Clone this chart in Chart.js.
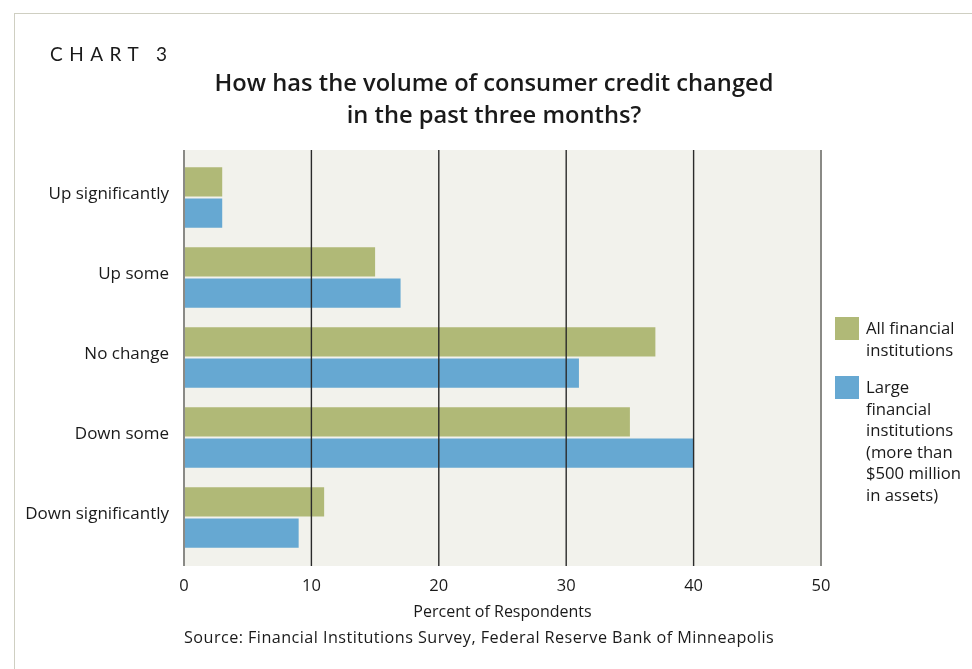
<!DOCTYPE html>
<html>
<head>
<meta charset="utf-8">
<script src="https://cdn.jsdelivr.net/npm/chart.js@4.4.1/dist/chart.umd.min.js"></script>
<style>
  body { margin: 0; background: #fff; font-family: "Open Sans", Lato, sans-serif; color: #1a1a1a; }
  #wrap { position: relative; width: 972px; height: 669px; overflow: hidden; }
  #frame { position: absolute; left: 14px; top: 13px; right: -2px; bottom: -2px;
           border-left: 1.5px solid #cfcfc2; border-top: 1.5px solid #cfcfc2; }
  #myChart { position: absolute; left: 0; top: 0; }
  .txt { position: absolute; white-space: nowrap; }
  #tag { left: 50px; top: 42px; font-family: Lato, sans-serif; font-size: 19px; letter-spacing: 6.5px; }
  #title { left: 144px; width: 700px; top: 66px; text-align: center; font-size: 23.7px;
           font-weight: 600; line-height: 32px; }
  #source { left: 184px; top: 626px; font-size: 16.2px; letter-spacing: 0.45px; }
  #legend { position: absolute; left: 835px; top: 317px; font-size: 16.7px; line-height: 21.5px; }
  .item { position: relative; padding-left: 31px; margin-bottom: 16px; }
  .box { position: absolute; left: 0; top: 0; width: 24px; height: 23px; }
</style>
</head>
<body>
<div id="wrap">
  <div id="frame"></div>
  <canvas id="myChart" width="972" height="669"></canvas>
  <div class="txt" id="tag">CHART 3</div>
  <div class="txt" id="title">How has the volume of consumer credit changed<br>in the past three months?</div>
  <div class="txt" id="source">Source: Financial Institutions Survey, Federal Reserve Bank of Minneapolis</div>
  <div id="legend"></div>
</div>
<script>
const categories = ['Up significantly', 'Up some', 'No change', 'Down some', 'Down significantly'];
const allInstitutions = [3, 15, 37, 35, 11];
const largeInstitutions = [3, 17, 31, 40, 9];
const seriesNames = [
    ['All financial', 'institutions'],
    ['Large', 'financial', 'institutions', '(more than', '$500 million', 'in assets)']
];
const xTicks = [0, 10, 20, 30, 40, 50];

const green = '#b0b977';
const blue = '#66a8d2';

// legend drawn as html because the labels wrap over several lines
const legend = document.getElementById('legend');
[green, blue].forEach((c, i) => {
    const d = document.createElement('div');
    d.className = 'item';
    d.innerHTML = '<span class="box" style="background:' + c + '"></span>' + seriesNames[i].join('<br>');
    legend.appendChild(d);
});

// plot background and vertical rules reach a little past the bars
const plotFrame = {
    id: 'plotFrame',
    beforeDatasetsDraw(chart) {
        const { ctx, chartArea: a } = chart;
        ctx.save();
        ctx.fillStyle = '#f2f2ec';
        ctx.fillRect(a.left, a.top - 7.5, a.right - a.left, a.bottom - a.top + 16);
        ctx.restore();
    },
    afterDatasetsDraw(chart) {
        const { ctx, chartArea: a, scales } = chart;
        ctx.save();
        xTicks.forEach((v, i) => {
            const x = scales.x.getPixelForValue(v);
            const edge = i === 0 || i === xTicks.length - 1;
            ctx.strokeStyle = edge ? '#8a8a86' : '#2b2b2b';
            ctx.lineWidth = edge ? 2 : 1.4;
            ctx.beginPath();
            ctx.moveTo(x, a.top - 7.5);
            ctx.lineTo(x, a.bottom + 8.5);
            ctx.stroke();
        });
        ctx.restore();
    }
};

const font = { family: "'Open Sans'", size: 16.5 };

const ctx = document.getElementById('myChart').getContext('2d');
const myChart = new Chart(ctx, {
    type: 'bar',
    data: {
        labels: categories,
        datasets: [{
            label: seriesNames[0].join(' '),
            data: allInstitutions,
            backgroundColor: green,
            categoryPercentage: 0.78,
            barPercentage: 0.94,
        }, {
            label: seriesNames[1].join(' '),
            data: largeInstitutions,
            backgroundColor: blue,
            categoryPercentage: 0.78,
            barPercentage: 0.94,
        }]
    },
    options: {
        indexAxis: 'y',
        responsive: false,
        animation: false,
        layout: { padding: { left: 0, top: 157.5, right: 151, bottom: 47 } },
        plugins: {
            legend: { display: false },
            tooltip: { enabled: false },
        },
        scales: {
            x: {
                min: 0,
                max: 50,
                afterBuildTicks: (s) => { s.ticks = xTicks.map(v => ({ value: v })); },
                afterFit: (s) => { s.height = 64.5; },
                grid: { display: false, drawTicks: false },
                border: { display: false },
                ticks: { padding: 19, color: '#1a1a1a', font: font },
                title: {
                    display: true,
                    text: 'Percent of Respondents',
                    color: '#1a1a1a',
                    padding: 0,
                    font: { family: "'Open Sans'", size: 16 },
                },
            },
            y: {
                afterFit: (s) => { s.width = 184; },
                grid: { display: false, drawTicks: false },
                border: { display: false },
                ticks: { padding: 15, labelOffset: -3.5, color: '#1a1a1a', font: { family: "'Open Sans'", size: 17 } },
            }
        }
    },
    plugins: [plotFrame],
});
</script>
</body>
</html>
